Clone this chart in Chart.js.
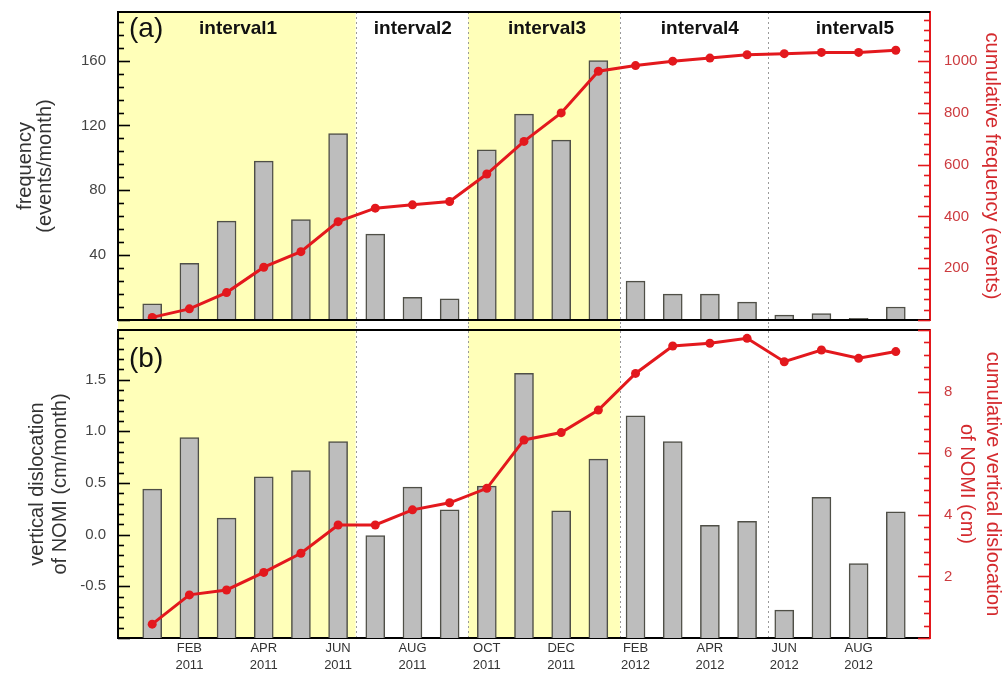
<!DOCTYPE html>
<html>
<head>
<meta charset="utf-8">
<script src="https://cdn.jsdelivr.net/npm/chart.js"></script>
<style>
  body { margin: 0; background: #fff; }
  #wrap { position: relative; width: 1006px; height: 673px; }
  canvas { position: absolute; left: 0; }
  #top { top: 0; }
  #bottom { top: 326px; }
</style>
</head>
<body>
<div id="wrap">
  <canvas id="top" width="1006" height="326"></canvas>
  <canvas id="bottom" width="1006" height="347"></canvas>
</div>
<script>
// months Jan 2011 .. Sep 2012, one bar each
const months = ['JAN 2011','FEB 2011','MAR 2011','APR 2011','MAY 2011','JUN 2011','JUL 2011','AUG 2011','SEP 2011',
                'OCT 2011','NOV 2011','DEC 2011','JAN 2012','FEB 2012','MAR 2012','APR 2012','MAY 2012',
                'JUN 2012','JUL 2012','AUG 2012','SEP 2012'];
const monthTicks = [1, 3, 5, 7, 9, 11, 13, 15, 17, 19];

// (a)
const frequency = [10, 35, 61, 98, 62, 115, 53, 14, 13, 105, 127, 111, 160, 24, 16, 16, 11, 3, 4, 1, 8];
const cumFrequency = [10, 43, 106, 204, 264, 380, 432, 445, 458, 564, 690, 800, 961, 983, 1000, 1012, 1025, 1029, 1034, 1034, 1042];
// (b)
const dislocation = [0.44, 0.94, 0.16, 0.56, 0.62, 0.90, -0.01, 0.46, 0.24, 0.47, 1.56, 0.23, 0.73, 1.15, 0.90, 0.09, 0.13, -0.73, 0.36, -0.28, 0.22];
const cumDislocation = [0.45, 1.40, 1.56, 2.13, 2.75, 3.67, 3.67, 4.16, 4.39, 4.86, 6.43, 6.67, 7.40, 8.59, 9.48, 9.57, 9.73, 8.97, 9.35, 9.08, 9.30];

const freqTicks = [40, 80, 120, 160];
const cumFreqTicks = [200, 400, 600, 800, 1000];
const dislTicks = [-0.5, 0.0, 0.5, 1.0, 1.5];
const cumDislTicks = [2, 4, 6, 8];

const intervalNames = ['interval1', 'interval2', 'interval3', 'interval4', 'interval5'];
const intervalCenters = [2.31, 7.01, 10.62, 14.73, 18.9];
const intervalEdges = [5.47, 8.5, 12.58, 16.56];
const shadedIntervals = [0, 2];

const RED = '#e3181d';
const RED_TXT = '#cc3b3f';
const YELLOW = '#ffffb9';
const minorSteps = { yFreq: 8, yCumFreq: 40, yDisl: 0.1, yCumDisl: 0.4 };

Chart.defaults.font.family = "'Liberation Sans', Arial, sans-serif";

function pts(arr) {
  return arr.map((v, i) => ({ x: i, y: v }));
}

// no automatic label padding, the canvases are laid out by hand
function noPad(s) {
  s.paddingTop = 0; s.paddingBottom = 0; s.paddingLeft = 0; s.paddingRight = 0;
}

function panelPlugin(cfg) {
  return {
    id: 'panel',
    beforeDraw(chart) {
      const { ctx, chartArea: a, scales } = chart;
      const x = scales.x;
      const y0 = cfg.shadeTop === null ? a.top : cfg.shadeTop;
      const y1 = cfg.shadeBottom === null ? a.bottom : cfg.shadeBottom;
      const bounds = [x.min].concat(intervalEdges, [x.max]);
      ctx.save();
      ctx.fillStyle = YELLOW;
      shadedIntervals.forEach(k => {
        const p0 = x.getPixelForValue(bounds[k]);
        const p1 = x.getPixelForValue(bounds[k + 1]);
        ctx.fillRect(p0, y0, p1 - p0, y1 - y0);
      });
      ctx.strokeStyle = '#9a9a9a';
      ctx.lineWidth = 1;
      ctx.setLineDash([2, 3]);
      intervalEdges.forEach(e => {
        const p = Math.round(x.getPixelForValue(e)) + 0.5;
        ctx.beginPath();
        ctx.moveTo(p, y0);
        ctx.lineTo(p, y1);
        ctx.stroke();
      });
      ctx.restore();
    },
    afterDraw(chart) {
      const { ctx, chartArea: a, scales } = chart;
      ctx.save();
      // top / bottom frame
      ctx.strokeStyle = '#000';
      ctx.lineWidth = 2;
      ctx.beginPath();
      ctx.moveTo(a.left - 1, a.top);
      ctx.lineTo(a.right, a.top);
      if (cfg.bottomLine) {
        ctx.moveTo(a.left - 1, a.bottom);
        ctx.lineTo(a.right, a.bottom);
      }
      ctx.stroke();

      // inward ticks, major + minor
      Object.keys(scales).forEach(id => {
        const s = scales[id];
        const step = minorSteps[id];
        if (!step) return;
        const left = s.position === 'left';
        ctx.strokeStyle = left ? '#000' : RED;
        ctx.lineWidth = 1.6;
        const start = Math.ceil(s.min / step - 1e-6);
        const end = Math.floor(s.max / step + 1e-6);
        for (let i = start; i <= end; i++) {
          const v = i * step;
          const py = Math.round(s.getPixelForValue(v)) + 0.5;
          const len = (i % 5 === 0) ? 12 : 6;
          const x0 = left ? a.left : a.right;
          ctx.beginPath();
          ctx.moveTo(x0, py);
          ctx.lineTo(left ? x0 + len : x0 - len, py);
          ctx.stroke();
        }
      });

      // panel letter
      ctx.fillStyle = '#111';
      ctx.textBaseline = 'middle';
      ctx.textAlign = 'left';
      ctx.font = "28px 'Liberation Sans', Arial, sans-serif";
      ctx.fillText(cfg.letter, a.left + 11, a.top + cfg.letterY);

      if (cfg.intervals) {
        ctx.font = "bold 19px 'Liberation Sans', Arial, sans-serif";
        ctx.textAlign = 'center';
        intervalNames.forEach((n, i) => {
          ctx.fillText(n, scales.x.getPixelForValue(intervalCenters[i]), a.top + 17);
        });
      }
      ctx.restore();
    }
  };
}

function leftAxis(min, max, tickVals, title, titleOpts, fmt) {
  return {
    position: 'left', min: min, max: max,
    afterFit: s => { s.width = 118; noPad(s); },
    afterBuildTicks: s => { s.ticks = tickVals.map(v => ({ value: v })); },
    grid: { display: false, drawTicks: false },
    border: { color: '#000', width: 2 },
    ticks: { padding: 12, color: '#444', font: { size: 15 }, callback: fmt || (v => String(v)) },
    title: Object.assign({ display: true, text: title, color: '#333' }, titleOpts)
  };
}

function rightAxis(min, max, tickVals, title, titleOpts) {
  return {
    position: 'right', min: min, max: max,
    afterFit: s => { s.width = 76; noPad(s); },
    afterBuildTicks: s => { s.ticks = tickVals.map(v => ({ value: v })); },
    grid: { display: false, drawTicks: false },
    border: { color: RED, width: 2 },
    ticks: { padding: 14, color: RED_TXT, font: { size: 15 }, callback: v => String(v) },
    title: Object.assign({ display: true, text: title, color: '#d42a2e' }, titleOpts)
  };
}

const common = {
  responsive: false,
  animation: false,
  devicePixelRatio: 1,
  plugins: { legend: { display: false }, tooltip: { enabled: false } }
};

// ---------- (a) ----------
new Chart(document.getElementById('top'), {
  type: 'bar',
  data: {
    datasets: [
      {
        type: 'line', yAxisID: 'yCumFreq', data: pts(cumFrequency),
        borderColor: RED, borderWidth: 3, tension: 0,
        pointRadius: 4.5, pointBackgroundColor: RED, pointBorderWidth: 0, order: 0
      },
      {
        type: 'bar', yAxisID: 'yFreq', data: pts(frequency),
        backgroundColor: '#bdbdbd', borderColor: '#4f4f47', borderWidth: 1.5,
        barThickness: 19, order: 1
      }
    ]
  },
  options: Object.assign({}, common, {
    layout: { autoPadding: false, padding: { top: 12, bottom: 6, left: 0, right: 0 } },
    scales: {
      x: { type: 'linear', min: -0.92, max: 20.92, offset: false, grid: { offset: false }, display: false },
      yFreq: leftAxis(0, 190, freqTicks, ['frequency', '(events/month)'],
        { font: { size: 20, lineHeight: 1.0 }, padding: { top: 15 } }),
      yCumFreq: rightAxis(0, 1190, cumFreqTicks, 'cumulative frequency (events)',
        { font: { size: 20, lineHeight: 1.0 }, padding: { top: 4 } })
    }
  }),
  plugins: [panelPlugin({ letter: '(a)', letterY: 17, intervals: true, shadeTop: null, shadeBottom: 326, bottomLine: true })]
});

// ---------- (b) ----------
new Chart(document.getElementById('bottom'), {
  type: 'bar',
  data: {
    datasets: [
      {
        type: 'line', yAxisID: 'yCumDisl', data: pts(cumDislocation),
        borderColor: RED, borderWidth: 3, tension: 0,
        pointRadius: 4.5, pointBackgroundColor: RED, pointBorderWidth: 0, order: 0
      },
      {
        type: 'bar', yAxisID: 'yDisl', data: pts(dislocation), base: -1,
        backgroundColor: '#bdbdbd', borderColor: '#4f4f47', borderWidth: 1.5,
        barThickness: 19, order: 1
      }
    ]
  },
  options: Object.assign({}, common, {
    layout: { autoPadding: false, padding: { top: 4, bottom: 0, left: 0, right: 0 } },
    scales: {
      x: {
        type: 'linear', min: -0.92, max: 20.92, position: 'bottom', offset: false,
        afterFit: s => { s.height = 35; noPad(s); },
        afterBuildTicks: s => { s.ticks = monthTicks.map(v => ({ value: v })); },
        grid: { display: false, drawTicks: false, offset: false },
        border: { color: '#000', width: 2 },
        ticks: {
          padding: 2, color: '#333', font: { size: 13, lineHeight: 1.3 },
          maxRotation: 0, autoSkip: false,
          callback: v => months[v].split(' ')
        }
      },
      yDisl: leftAxis(-1.0, 1.98, dislTicks, ['vertical dislocation', 'of NOMI (cm/month)'],
        { font: { size: 20, lineHeight: 1.15 }, padding: { top: 25.5 } }, v => v.toFixed(1)),
      yCumDisl: rightAxis(0, 10, cumDislTicks, ['cumulative vertical dislocation', 'of NOMI (cm)'],
        { font: { size: 20, lineHeight: 1.3 }, padding: { top: 0 } })
    }
  }),
  plugins: [panelPlugin({ letter: '(b)', letterY: 29, intervals: false, shadeTop: 0, shadeBottom: null, bottomLine: false })]
});
</script>
</body>
</html>
